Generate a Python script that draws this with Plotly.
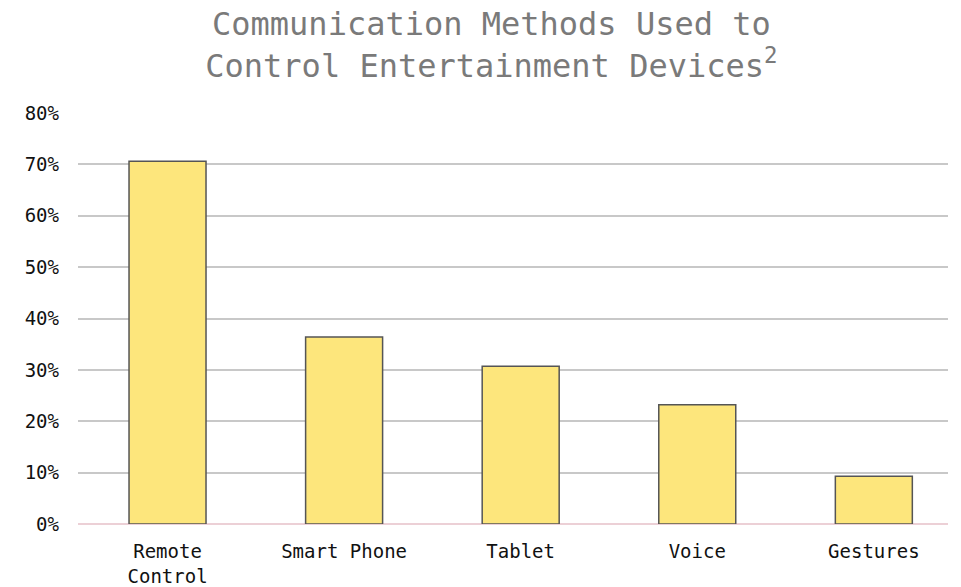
import plotly.graph_objects as go

categories = ["Remote<br>Control", "Smart Phone", "Tablet", "Voice", "Gestures"]
shares = [0.706, 0.364, 0.307, 0.232, 0.093]
tick_vals = [0, 0.1, 0.2, 0.3, 0.4, 0.5, 0.6, 0.7, 0.8]
tick_text = ["0%", "10%", "20%", "30%", "40%", "50%", "60%", "70%", "80%"]

FONT = "DejaVu Sans Mono, Liberation Mono, monospace"

fig = go.Figure()
fig.add_trace(go.Bar(
    x=list(range(len(categories))),
    y=shares,
    width=0.436,
    marker=dict(color="#fde67c", line=dict(color="#555555", width=1.5)),
    hoverinfo="skip",
))

# the page body adds an 8px offset, margins compensate for it
fig.update_layout(
    width=961,
    height=587,
    title=dict(
        text="Communication Methods Used to<br>Control Entertainment Devices<sup>2</sup>",
        x=0.503,
        xanchor="center",
        xref="container",
        y=1 - 27 / 587,
        yanchor="middle",
        yref="container",
        font=dict(family=FONT, size=32, color="#7a7a7a"),
    ),
    font=dict(family=FONT, size=15, color="#111111"),
    paper_bgcolor="#ffffff",
    plot_bgcolor="#ffffff",
    margin=dict(l=70, r=21, t=105, b=71, autoexpand=False),
    showlegend=False,
)

fig.update_xaxes(
    tickvals=list(range(len(categories))),
    ticktext=categories,
    range=[-0.507, 4.42],
    showgrid=False,
    showline=False,
    ticks="",
    automargin=False,
    ticklabelstandoff=14,
    tickfont=dict(size=19),
)
fig.update_yaxes(
    range=[0, 0.8],
    tickvals=tick_vals,
    ticktext=tick_text,
    showgrid=True,
    gridcolor="#c8c8c8",
    gridwidth=1.5,
    zeroline=True,
    zerolinecolor="#ecd0d6",
    zerolinewidth=1.5,
    showline=False,
    ticks="",
    automargin=False,
    ticklabelstandoff=18,
    tickfont=dict(size=19),
)

fig.write_html("out.html")
